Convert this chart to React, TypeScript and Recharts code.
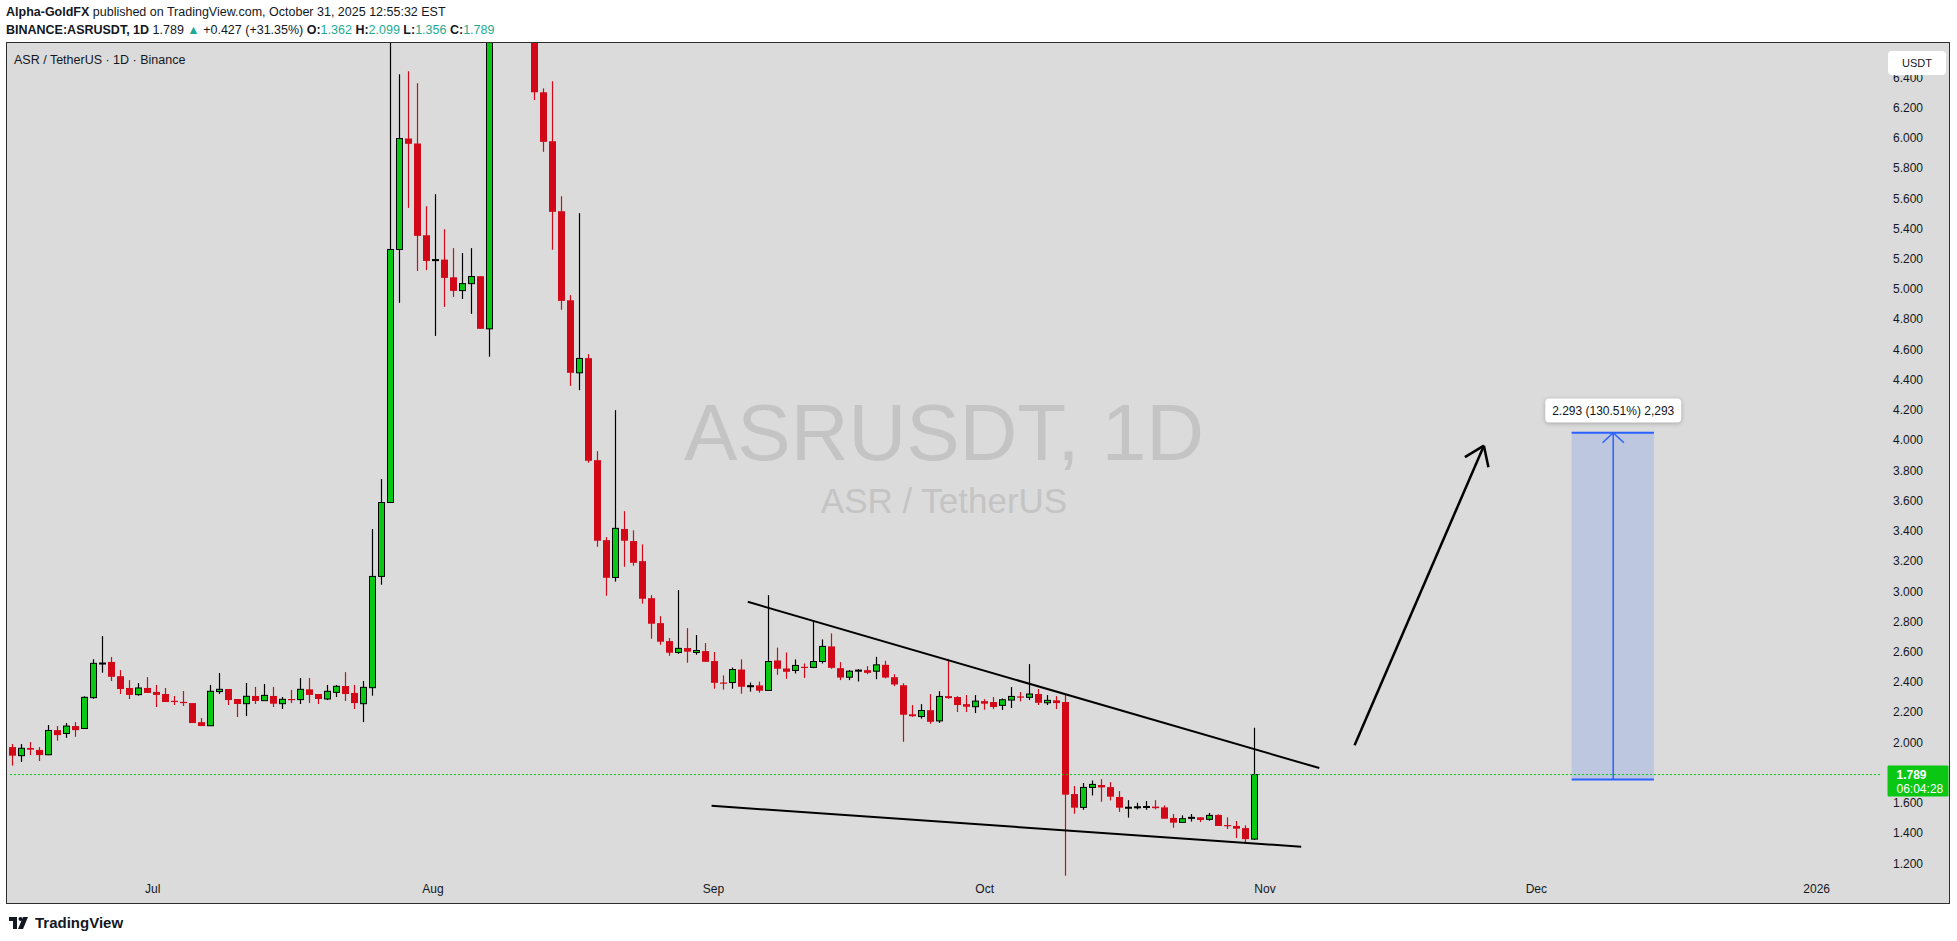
import React from "react";
import { ComposedChart, Bar, XAxis, YAxis, ReferenceLine, ReferenceArea, ReferenceDot } from "recharts";

// ---------- data ----------
const START_UTC = Date.UTC(2025, 5, 15); // first candle: 2025-06-15
const DAY_COUNT = 208; // axis runs to 2026-01-08
const dates: string[] = Array.from({ length: DAY_COUNT }, (_, i) =>
  new Date(START_UTC + i * 86400000).toISOString().slice(0, 10)
);

const opens = [
  1.971, 1.914, 1.965, 1.952, 1.920, 2.083, 2.061, 2.110, 2.094, 2.298,
  2.525, 2.534, 2.440, 2.362, 2.318, 2.362, 2.336, 2.322, 2.277, 2.270,
  2.262, 2.136, 2.112, 2.338, 2.355, 2.289, 2.258, 2.309, 2.278, 2.309,
  2.258, 2.289, 2.285, 2.353, 2.322, 2.289, 2.333, 2.375, 2.329, 2.258,
  2.364, 3.100, 3.589, 5.263, 5.997, 5.964, 5.357, 5.190, 5.196, 5.079,
  4.991, 5.037, 5.086, 4.738, 7.100, 8.200, 7.900, 7.300, 7.000, 6.303,
  5.979, 5.516, 4.927, 4.447, 4.544, 3.869, 3.340, 3.093, 3.414, 3.334,
  3.201, 2.956, 2.791, 2.672, 2.597, 2.626, 2.597, 2.606, 2.540, 2.398,
  2.398, 2.484, 2.376, 2.379, 2.346, 2.544, 2.491, 2.478, 2.502, 2.498,
  2.537, 2.637, 2.493, 2.433, 2.479, 2.480, 2.473, 2.515, 2.433, 2.380,
  2.188, 2.173, 2.215, 2.144, 2.308, 2.302, 2.255, 2.238, 2.275, 2.269,
  2.247, 2.282, 2.306, 2.300, 2.322, 2.264, 2.280, 2.269, 1.660, 1.572,
  1.704, 1.720, 1.706, 1.641, 1.572, 1.575, 1.577, 1.577, 1.572, 1.502,
  1.473, 1.504, 1.506, 1.493, 1.522, 1.455, 1.449, 1.435, 1.362,
];
const highs = [
  1.991, 1.991, 2.004, 1.971, 2.117, 2.110, 2.130, 2.136, 2.307, 2.552,
  2.705, 2.567, 2.480, 2.414, 2.395, 2.434, 2.382, 2.362, 2.309, 2.342,
  2.262, 2.163, 2.382, 2.461, 2.355, 2.289, 2.395, 2.369, 2.388, 2.369,
  2.302, 2.349, 2.428, 2.428, 2.322, 2.382, 2.382, 2.467, 2.382, 2.408,
  3.413, 3.744, 6.900, 6.422, 6.442, 6.363, 5.549, 5.629, 5.397, 5.272,
  5.239, 5.272, 5.086, 7.400, 8.600, 9.100, 8.300, 7.600, 7.100, 6.329,
  6.376, 5.615, 4.961, 5.503, 4.570, 3.929, 3.360, 4.200, 3.532, 3.405,
  3.312, 2.976, 2.837, 2.692, 3.010, 2.758, 2.712, 2.659, 2.600, 2.445,
  2.497, 2.551, 2.398, 2.404, 2.976, 2.629, 2.597, 2.551, 2.524, 2.803,
  2.683, 2.723, 2.533, 2.480, 2.487, 2.506, 2.568, 2.542, 2.453, 2.393,
  2.249, 2.255, 2.321, 2.341, 2.551, 2.308, 2.315, 2.315, 2.288, 2.302,
  2.293, 2.368, 2.335, 2.520, 2.355, 2.315, 2.308, 2.321, 1.713, 1.733,
  1.750, 1.759, 1.739, 1.680, 1.620, 1.603, 1.614, 1.620, 1.585, 1.528,
  1.519, 1.528, 1.506, 1.535, 1.526, 1.506, 1.482, 1.453, 2.099,
];
const lows = [
  1.848, 1.872, 1.918, 1.879, 1.918, 2.013, 2.032, 2.039, 2.092, 2.291,
  2.463, 2.408, 2.322, 2.289, 2.311, 2.329, 2.236, 2.269, 2.249, 2.243,
  2.130, 2.110, 2.110, 2.322, 2.249, 2.170, 2.176, 2.256, 2.278, 2.236,
  2.223, 2.262, 2.256, 2.262, 2.256, 2.282, 2.302, 2.276, 2.223, 2.136,
  2.311, 3.045, 3.589, 4.910, 5.538, 5.121, 5.126, 4.691, 4.883, 4.949,
  4.936, 4.837, 4.738, 4.553, 6.950, 7.500, 7.000, 6.800, 6.252, 5.909,
  5.261, 4.864, 4.361, 4.332, 3.852, 3.296, 2.972, 3.066, 3.164, 3.171,
  2.920, 2.688, 2.648, 2.575, 2.588, 2.529, 2.582, 2.535, 2.357, 2.351,
  2.357, 2.324, 2.338, 2.331, 2.346, 2.449, 2.422, 2.458, 2.429, 2.493,
  2.524, 2.489, 2.414, 2.414, 2.405, 2.453, 2.420, 2.425, 2.374, 2.006,
  2.171, 2.159, 2.125, 2.131, 2.290, 2.203, 2.203, 2.196, 2.218, 2.222,
  2.216, 2.229, 2.273, 2.282, 2.249, 2.249, 2.222, 1.120, 1.530, 1.556,
  1.651, 1.609, 1.618, 1.542, 1.504, 1.559, 1.556, 1.559, 1.497, 1.437,
  1.471, 1.478, 1.475, 1.484, 1.449, 1.429, 1.369, 1.334, 1.356,
];
const closes = [
  1.914, 1.963, 1.954, 1.918, 2.081, 2.050, 2.110, 2.083, 2.300, 2.525,
  2.527, 2.436, 2.355, 2.316, 2.362, 2.329, 2.316, 2.269, 2.273, 2.266,
  2.130, 2.110, 2.340, 2.353, 2.282, 2.256, 2.307, 2.276, 2.313, 2.258,
  2.287, 2.285, 2.353, 2.316, 2.289, 2.340, 2.373, 2.322, 2.262, 2.366,
  3.100, 3.589, 5.263, 5.997, 5.962, 5.353, 5.187, 5.196, 5.075, 4.989,
  5.037, 5.084, 4.738, 7.100, 8.200, 7.900, 7.300, 7.000, 6.303, 5.975,
  5.512, 4.923, 4.447, 4.542, 3.865, 3.336, 3.091, 3.418, 3.336, 3.190,
  2.952, 2.787, 2.668, 2.595, 2.624, 2.602, 2.610, 2.535, 2.396, 2.395,
  2.484, 2.370, 2.377, 2.344, 2.537, 2.489, 2.469, 2.511, 2.498, 2.537,
  2.637, 2.495, 2.431, 2.473, 2.480, 2.462, 2.515, 2.431, 2.385, 2.185,
  2.175, 2.213, 2.138, 2.306, 2.295, 2.249, 2.238, 2.275, 2.258, 2.236,
  2.284, 2.306, 2.304, 2.322, 2.264, 2.280, 2.262, 1.656, 1.570, 1.704,
  1.724, 1.704, 1.643, 1.570, 1.573, 1.576, 1.578, 1.567, 1.497, 1.471,
  1.497, 1.506, 1.489, 1.519, 1.449, 1.451, 1.431, 1.362, 1.789,
];

const monthTickIdx = [16, 47, 78, 108, 139, 169, 200];
const monthTickLabels = ["Jul", "Aug", "Sep", "Oct", "Nov", "Dec", "2026"];
const priceTicks = [
  1.2, 1.4, 1.6, 1.8, 2.0, 2.2, 2.4, 2.6, 2.8, 3.0, 3.2, 3.4, 3.6, 3.8,
  4.0, 4.2, 4.4, 4.6, 4.8, 5.0, 5.2, 5.4, 5.6, 5.8, 6.0, 6.2, 6.4,
];
const priceDomain = [1.118, 6.629];

const lastPrice = 1.789;
const countdown = "06:04:28";

// drawings (x = day index, y = price)
const upperTrend = [{ x: 81.8, y: 2.932 }, { x: 145.0, y: 1.832 }];
const lowerTrend = [{ x: 77.8, y: 1.582 }, { x: 143.0, y: 1.312 }];
const arrowShaft = [{ x: 148.9, y: 1.983 }, { x: 163.2, y: 3.965 }];
const arrowWingA = [{ x: 163.2, y: 3.965 }, { x: 161.1, y: 3.889 }];
const arrowWingB = [{ x: 163.2, y: 3.965 }, { x: 163.7, y: 3.823 }];
const measureX = [172.9, 182.0];
const measureY = [1.757, 4.05];
const measureMidX = 177.5;
const measureHeadY = 3.984;
const measureHeadDX = 1.18;
const measureLabel = "2.293 (130.51%) 2,293";
const measureLabelY = 4.197;

const data = dates.map((d, i) => ({
  date: d,
  open: i < opens.length ? opens[i] : null,
  high: i < highs.length ? highs[i] : null,
  low: i < lows.length ? lows[i] : null,
  close: i < closes.length ? closes[i] : null,
}));

// ---------- styles ----------
const GREEN = "#0AC714";
const RED = "#D20819";
const TEAL = "#22AB94";
const TXT = "#131722";
const FONT = "'Liberation Sans', Arial, sans-serif";
const BG = "#DBDBDB";
const BLUE = "#2962FF";

const Candle = (props: any) => {
  const { x, y, width, height, payload } = props;
  if (!payload || payload.open == null) return null;
  const { open, close, high, low } = payload;
  const range = high - low;
  const pix = (v: number) => (range === 0 ? y : y + ((high - v) / range) * height);
  const cx = Math.round(x + width / 2 - 0.5) + 0.5;
  const up = close >= open;
  const yO = pix(open);
  const yC = pix(close);
  const top = Math.min(yO, yC);
  const bot = Math.max(yO, yC);
  if (up) {
    const h = Math.max(1, bot - top);
    return (
      <g>
        <line x1={cx} x2={cx} y1={y} y2={y + height} stroke="#000" strokeWidth={1.2} />
        <rect x={cx - 3} y={top} width={6} height={h} fill={GREEN} stroke="#000" strokeWidth={1} />
      </g>
    );
  }
  const h = Math.max(1.2, bot - top);
  return (
    <g>
      <line x1={cx} x2={cx} y1={y} y2={y + height} stroke={RED} strokeWidth={1.2} />
      <rect x={cx - 3.5} y={top} width={7} height={h} fill={RED} />
    </g>
  );
};

const PriceTick = (props: any) => {
  const { x, y, payload } = props;
  if (Math.abs(payload.value - lastPrice) < 0.06) return null;
  return (
    <text x={x + 5} y={y} dominantBaseline="central" fontSize={12} fill={TXT} fontFamily={FONT}>
      {payload.value.toFixed(3)}
    </text>
  );
};

const monthName = (v: number) => {
  const idx = monthTickIdx.indexOf(v);
  return idx >= 0 ? monthTickLabels[idx] : "";
};

const PriceTag = (props: any) => {
  const { cx, cy } = props;
  const x0 = cx + 3;
  return (
    <g>
      <rect x={x0} y={cy - 9} width={61} height={31} fill={GREEN} rx={1} />
      <text x={x0 + 9} y={cy} dominantBaseline="central" fontSize={12} fontWeight={700} fill="#fff" fontFamily={FONT}>
        {lastPrice.toFixed(3)}
      </text>
      <text x={x0 + 9} y={cy + 14} dominantBaseline="central" fontSize={12} fill="#fff" fontFamily={FONT}>
        {countdown}
      </text>
    </g>
  );
};

const MeasureLabel = (props: any) => {
  const { cx, cy } = props;
  return (
    <g>
      <rect x={cx - 68} y={cy - 12} width={136} height={24} rx={4} fill="#fff"
        style={{ filter: "drop-shadow(0px 1px 2px rgba(0,0,0,0.25))" }} />
      <text x={cx} y={cy} textAnchor="middle" dominantBaseline="central" fontSize={12} fill={TXT} fontFamily={FONT}>
        {measureLabel}
      </text>
    </g>
  );
};

export default function App() {
  return (
    <div style={{ position: "absolute", left: 0, top: 0, width: 1957, height: 941, background: "#fff", fontFamily: FONT, overflow: "hidden" }}>
      {/* header */}
      <div style={{ position: "absolute", left: 6, top: 3, fontSize: 12.5, color: TXT, whiteSpace: "nowrap", lineHeight: "18px" }}>
        <span style={{ fontWeight: 700 }}>Alpha-GoldFX</span> published on TradingView.com, October 31, 2025 12:55:32 EST
      </div>
      <div style={{ position: "absolute", left: 6, top: 21, fontSize: 12.5, color: TXT, whiteSpace: "nowrap", lineHeight: "18px" }}>
        <span style={{ fontWeight: 700 }}>BINANCE:ASRUSDT, 1D</span> 1.789 <span style={{ color: TEAL }}>▲</span> +0.427 (+31.35%){" "}
        <span style={{ fontWeight: 700 }}>O:</span><span style={{ color: TEAL }}>1.362</span>{" "}
        <span style={{ fontWeight: 700 }}>H:</span><span style={{ color: TEAL }}>2.099</span>{" "}
        <span style={{ fontWeight: 700 }}>L:</span><span style={{ color: TEAL }}>1.356</span>{" "}
        <span style={{ fontWeight: 700 }}>C:</span><span style={{ color: TEAL }}>1.789</span>
      </div>

      {/* frame */}
      <div style={{ position: "absolute", left: 6, top: 42, width: 1942, height: 860, border: "1px solid #2E2E2E", background: BG }} />

      {/* watermark */}
      <div style={{ position: "absolute", left: 8, width: 1872, top: 385, textAlign: "center", fontSize: 80, lineHeight: "96px", color: "#C4C4C4", whiteSpace: "nowrap" }}>
        ASRUSDT, 1D
      </div>
      <div style={{ position: "absolute", left: 8, width: 1872, top: 480, textAlign: "center", fontSize: 35, lineHeight: "42px", color: "#C4C4C4", whiteSpace: "nowrap" }}>
        ASR / TetherUS
      </div>

      {/* chart */}
      <div style={{ position: "absolute", left: 7, top: 43 }}>
        <ComposedChart width={1942} height={860} data={data} margin={{ top: 0, right: 0, bottom: 0, left: 1 }}>
          <XAxis
            xAxisId="n"
            type="number"
            domain={[-0.5, DAY_COUNT - 0.5]}
            allowDataOverflow
            ticks={monthTickIdx}
            tickFormatter={monthName}
            tick={{ fontSize: 12, fill: TXT, fontFamily: FONT }}
            tickLine={false}
            axisLine={false}
            tickMargin={2}
            height={27}
            interval={0}
          />
          <XAxis dataKey="date" type="category" hide orientation="top" height={0} />
          <YAxis
            orientation="right"
            domain={priceDomain}
            allowDataOverflow
            ticks={priceTicks}
            tick={<PriceTick />}
            tickLine={false}
            axisLine={false}
            width={69}
            interval={0}
          />
          <ReferenceArea xAxisId="n" x1={measureX[0]} x2={measureX[1]} y1={measureY[0]} y2={measureY[1]}
            fill={BLUE} fillOpacity={0.16} stroke="none" ifOverflow="visible" />
          <ReferenceLine y={lastPrice} stroke={GREEN} strokeDasharray="2 2" strokeWidth={1} />
          <Bar dataKey={(d: any) => (d.low == null ? null : [d.low, d.high])} shape={<Candle />} barSize={7} isAnimationActive={false} />
          <ReferenceLine xAxisId="n" segment={upperTrend} stroke="#000" strokeWidth={2} ifOverflow="visible" />
          <ReferenceLine xAxisId="n" segment={lowerTrend} stroke="#000" strokeWidth={2} ifOverflow="visible" />
          <ReferenceLine xAxisId="n" segment={arrowShaft} stroke="#000" strokeWidth={2.5} ifOverflow="visible" />
          <ReferenceLine xAxisId="n" segment={arrowWingA} stroke="#000" strokeWidth={2.5} ifOverflow="visible" />
          <ReferenceLine xAxisId="n" segment={arrowWingB} stroke="#000" strokeWidth={2.5} ifOverflow="visible" />
          <ReferenceLine xAxisId="n" segment={[{ x: measureX[0], y: measureY[1] }, { x: measureX[1], y: measureY[1] }]} stroke={BLUE} strokeWidth={2} ifOverflow="visible" />
          <ReferenceLine xAxisId="n" segment={[{ x: measureX[0], y: measureY[0] }, { x: measureX[1], y: measureY[0] }]} stroke={BLUE} strokeWidth={2} ifOverflow="visible" />
          <ReferenceLine xAxisId="n" segment={[{ x: measureMidX, y: measureY[0] }, { x: measureMidX, y: measureY[1] }]} stroke={BLUE} strokeWidth={1.5} ifOverflow="visible" />
          <ReferenceLine xAxisId="n" segment={[{ x: measureMidX, y: measureY[1] }, { x: measureMidX - measureHeadDX, y: measureHeadY }]} stroke={BLUE} strokeWidth={1.5} ifOverflow="visible" />
          <ReferenceLine xAxisId="n" segment={[{ x: measureMidX, y: measureY[1] }, { x: measureMidX + measureHeadDX, y: measureHeadY }]} stroke={BLUE} strokeWidth={1.5} ifOverflow="visible" />
          <ReferenceDot xAxisId="n" x={measureMidX} y={measureLabelY} r={0} shape={<MeasureLabel />} ifOverflow="visible" />
          <ReferenceDot xAxisId="n" x={DAY_COUNT - 0.5} y={lastPrice} r={0} shape={<PriceTag />} ifOverflow="visible" />
        </ComposedChart>
      </div>

      {/* pane title */}
      <div style={{ position: "absolute", left: 14, top: 52, fontSize: 12.5, color: TXT, whiteSpace: "nowrap", lineHeight: "16px" }}>
        ASR / TetherUS · 1D · Binance
      </div>

      {/* currency box */}
      <div style={{ position: "absolute", left: 1888, top: 51, width: 58, height: 24, background: "#fff", borderRadius: 4, fontSize: 11, color: TXT, display: "flex", alignItems: "center", justifyContent: "center" }}>
        USDT
      </div>

      {/* footer */}
      <div style={{ position: "absolute", left: 9, top: 914, display: "flex", alignItems: "center", gap: 4 }}>
        <svg width="22" height="14" viewBox="0 0 22 14">
          <path d="M0 1h8v12H4V5H0z" fill={TXT} />
          <circle cx="11.5" cy="3" r="2" fill={TXT} />
          <path d="M14 1h5l-5 12h-5z" fill={TXT} />
        </svg>
        <span style={{ fontWeight: 700, fontSize: 15, color: TXT }}>TradingView</span>
      </div>
    </div>
  );
}
